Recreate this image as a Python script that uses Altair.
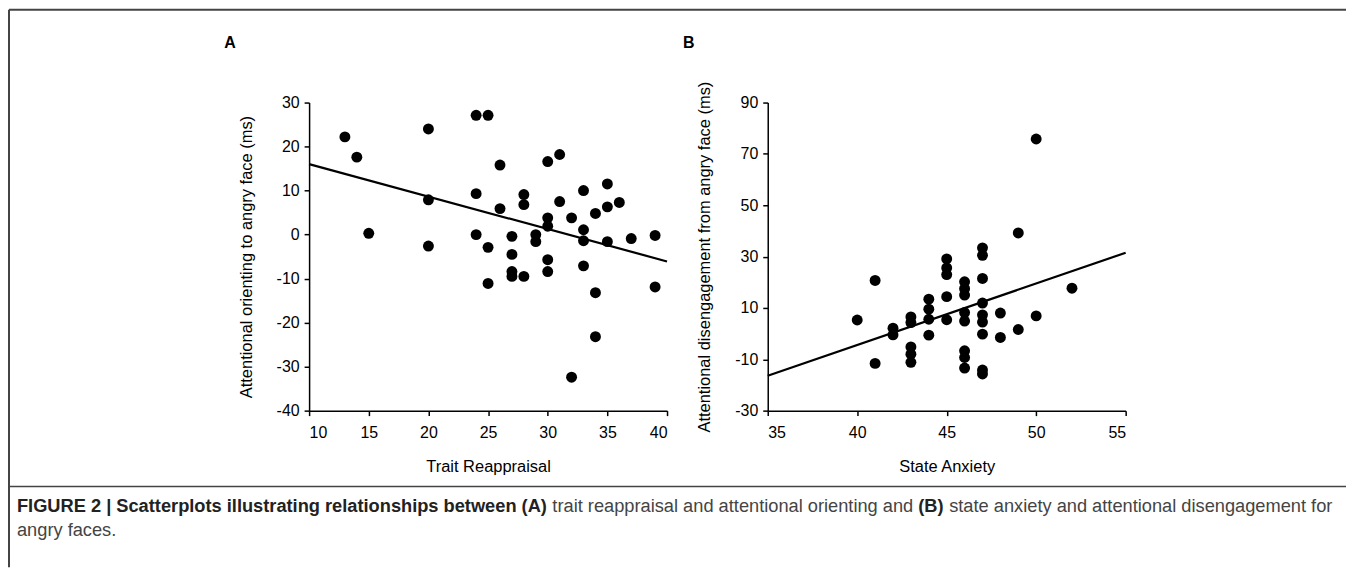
import altair as alt
import pandas as pd

# ---- Panel A data: Trait Reappraisal vs attentional orienting (ms)
a_x = [13, 14, 15, 20, 20, 20, 24, 25, 24, 24, 25, 25, 26, 26, 27, 27, 27, 27,
       28, 28, 28, 29, 29, 30, 30, 30, 30, 30, 31, 31, 32, 32, 33, 33, 33, 33,
       34, 34, 34, 35, 35, 35, 36, 37, 39, 39]
a_y = [22.2, 17.6, 0.3, 24.0, 7.9, -2.6, 27.1, 27.1, 9.3, 0.0, -2.9, -11.1,
       15.8, 5.9, -0.4, -4.5, -8.4, -9.5, 9.1, 6.8, -9.5, 0.0, -1.6, 16.6,
       3.8, 1.9, -5.7, -8.4, 18.2, 7.5, 3.8, -32.4, 10.0, 1.1, -1.4, -7.1,
       4.8, -13.2, -23.2, 11.5, 6.3, -1.6, 7.3, -0.9, -0.2, -11.9]
a_fit_x = [10, 40]
a_fit_y = [16.0, -6.1]

# ---- Panel B data: State Anxiety vs attentional disengagement (ms)
b_x = [50, 49, 52, 50, 49, 48, 48,
       47, 47, 47, 47, 47, 47, 47, 47, 47,
       46, 46, 46, 46, 46, 46, 46, 46,
       45, 45, 45, 45, 45,
       44, 44, 44, 44,
       43, 43, 43, 43, 43,
       42, 42, 41, 41, 40]
b_y = [75.8, 39.2, 17.7, 6.9, 1.6, 8.0, -1.5,
       33.4, 30.5, 21.5, 11.9, 7.3, 4.5, -0.2, -14.2, -15.7,
       20.2, 17.5, 15.0, 8.2, 4.9, -6.7, -9.3, -13.4,
       29.1, 25.6, 23.0, 14.4, 5.4,
       13.4, 9.5, 5.6, -0.6,
       6.5, 4.3, -5.2, -8.0, -11.2,
       2.1, -0.5, 20.7, -11.6, 5.3]
b_fit_x = [35, 55]
b_fit_y = [-16.4, 31.5]

a_xticks = [10, 15, 20, 25, 30, 35, 40]
a_yticks = [-40, -30, -20, -10, 0, 10, 20, 30]
b_xticks = [35, 40, 45, 50, 55]
b_yticks = [-30, -10, 10, 30, 50, 70, 90]

caption_bold_1 = "FIGURE 2 | Scatterplots illustrating relationships between (A)"
caption_reg_1 = "trait reappraisal and attentional orienting and"
caption_bold_2 = "(B)"
caption_reg_2 = "state anxiety and attentional disengagement for"
caption_line2 = "angry faces."

FONT = "Liberation Sans, Arial, sans-serif"
W, H = 359, 309
CAP = 18.3

dfa = pd.DataFrame({"x": a_x, "y": a_y})
dfa_fit = pd.DataFrame({"x": a_fit_x, "y": a_fit_y})
dfb = pd.DataFrame({"x": b_x, "y": b_y})
dfb_fit = pd.DataFrame({"x": b_fit_x, "y": b_fit_y})

one = alt.Data(values=[{"k": 0}])


def encs(xdom, ydom, xt, yt, xtitle, ytitle):
    x = alt.X("x:Q", scale=alt.Scale(domain=xdom, nice=False, zero=False),
              axis=alt.Axis(values=xt, title=xtitle, labelExpr="'' + datum.value",
                            labelPadding=9, titlePadding=18, tickSize=5))
    y = alt.Y("y:Q", scale=alt.Scale(domain=ydom, nice=False, zero=False),
              axis=alt.Axis(values=yt, title=ytitle, labelExpr="'' + datum.value",
                            labelPadding=5, titlePadding=22, tickSize=5))
    return x, y


def panel(df, dfit, xdom, ydom, xt, yt, xtitle, ytitle, extra):
    x, y = encs(xdom, ydom, xt, yt, xtitle, ytitle)
    pts = alt.Chart(df).mark_circle(size=120, color="black", opacity=1).encode(x=x, y=y)
    line = alt.Chart(dfit).mark_line(color="black", strokeWidth=2.2).encode(x=x, y=y)
    return alt.layer(line, pts, *extra).properties(width=W, height=H)


def txt(s, x, y, size=15, weight="normal", color="black"):
    return alt.Chart(one).mark_text(text=s, align="left", baseline="middle",
                                    fontSize=size, fontWeight=weight, font=FONT,
                                    color=color).encode(x=alt.value(x), y=alt.value(y))


frame_color = "#444444"
frame = [
    alt.Chart(one).mark_rule(color=frame_color, strokeWidth=2).encode(
        x=alt.value(-301), x2=alt.value(1040), y=alt.value(-93)),
    alt.Chart(one).mark_rule(color=frame_color, strokeWidth=2).encode(
        x=alt.value(-301), y=alt.value(-93), y2=alt.value(466)),
    alt.Chart(one).mark_rule(color=frame_color, strokeWidth=1.5).encode(
        x=alt.value(-301), x2=alt.value(1040), y=alt.value(385)),
]

captions = [
    txt(caption_bold_1, -293, 406, size=CAP, weight="bold", color="#222222"),
    txt(caption_reg_1, 244, 406, size=CAP, color="#444444"),
    txt(caption_bold_2, 611, 406, size=CAP, weight="bold", color="#222222"),
    txt(caption_reg_2, 642, 406, size=CAP, color="#444444"),
    txt(caption_line2, -293, 430, size=CAP, color="#444444"),
]

letter_a = txt("A", -85, -60, size=16, weight="bold")
letter_b = txt("B", -85, -60, size=16, weight="bold")

chart_a = panel(dfa, dfa_fit, [10, 40], [-40, 30], a_xticks, a_yticks,
                "Trait Reappraisal", "Attentional orienting to angry face (ms)",
                frame + captions + [letter_a])
chart_b = panel(dfb, dfb_fit, [35, 55], [-30, 90], b_xticks, b_yticks,
                "State Anxiety", "Attentional disengagement from angry face (ms)",
                [letter_b])

chart = alt.hconcat(chart_a, chart_b, spacing=101, bounds="flush").properties(
    padding=0
).configure_view(stroke=None).configure_axis(
    grid=False, domainColor="black", domainWidth=1.5, tickColor="black",
    tickWidth=1.5, labelColor="black", titleColor="black",
    labelFont=FONT, titleFont=FONT, labelFontSize=16, titleFontSize=16.5,
    titleFontWeight="normal"
)

chart.save("out.html", embed_options={"renderer": "svg", "actions": False})
